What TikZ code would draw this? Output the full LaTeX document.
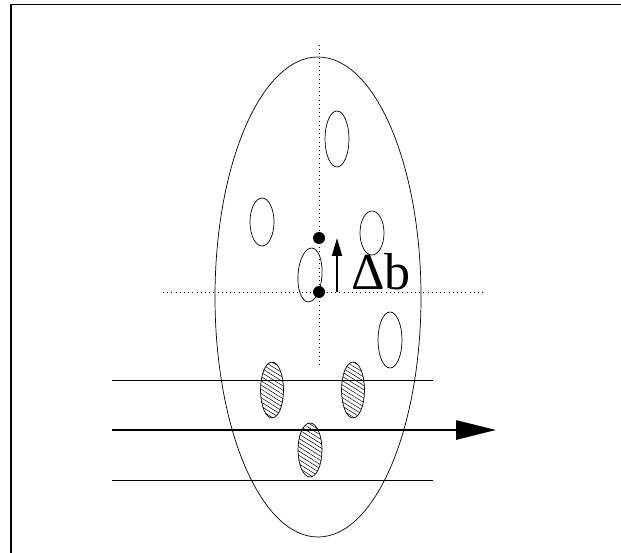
\documentclass[tikz,border=0pt]{standalone}
\usepackage{fontspec}
\setmainfont{Liberation Serif}
\usetikzlibrary{patterns.meta,arrows.meta}
\begin{document}
\begin{tikzpicture}[x=1pt,y=-1pt,
  thin line/.style={line width=0.8pt},
  dotline/.style={line width=0.7pt,dash pattern=on 1pt off 3.2pt},
  hole/.style={line width=0.7pt},
  hatched/.style={line width=0.7pt,pattern={Lines[angle=-32,distance=3.6pt,line width=0.5pt]}},
  bigdot/.style={fill=black}]
\useasboundingbox (0,0) rectangle (621,553);
% frame
\draw[line width=1.3pt] (11,553) -- (11,4.5) -- (621,4.5);
% main ellipse
\draw[hole] (318,297) ellipse [x radius=103, y radius=240];
% dotted axes
\draw[dotline] (319,45) -- (319,368);
\draw[dotline] (163,292) -- (485,292);
% holes
\draw[hole] (337,139) ellipse [x radius=12, y radius=28];
\draw[hole] (262,222) ellipse [x radius=12, y radius=24];
\draw[hole] (372,233) ellipse [x radius=12, y radius=22];
\draw[hole,rotate around={-4:(310,275)}] (310,275) ellipse [x radius=12, y radius=27];
\draw[hole] (390,340) ellipse [x radius=12, y radius=28];
% hatched holes
\draw[hatched] (272,390) ellipse [x radius=11.5, y radius=28];
\draw[hatched] (353,390) ellipse [x radius=11.5, y radius=28];
\draw[hatched] (310,450) ellipse [x radius=12, y radius=27];
% horizontal lines
\coordinate (l1a) at (112,380); \coordinate (l1b) at (433,380);
\coordinate (l2a) at (112,430); \coordinate (l2b) at (496,430);
\coordinate (l3a) at (112,480); \coordinate (l3b) at (433,480);
\draw[thin line] (l1a) -- (l1b);
\draw[line width=2.6pt,-{Triangle[length=40pt,width=19pt]}] (l2a) -- (l2b);
\draw[thin line] (l3a) -- (l3b);
% dots
\fill[bigdot] (319,238) circle (6);
\fill[bigdot] (319,292) circle (6);
% small arrow and label
\coordinate (sa) at (337,292); \coordinate (sb) at (337,238);
\draw[line width=2pt,-{Triangle[length=18pt,width=10pt]}] (sa) -- (sb);
\node[anchor=base west,inner sep=0pt,font=\fontsize{52}{52}\selectfont] (db) at (351,290) {Δb};
\end{tikzpicture}
\end{document}
